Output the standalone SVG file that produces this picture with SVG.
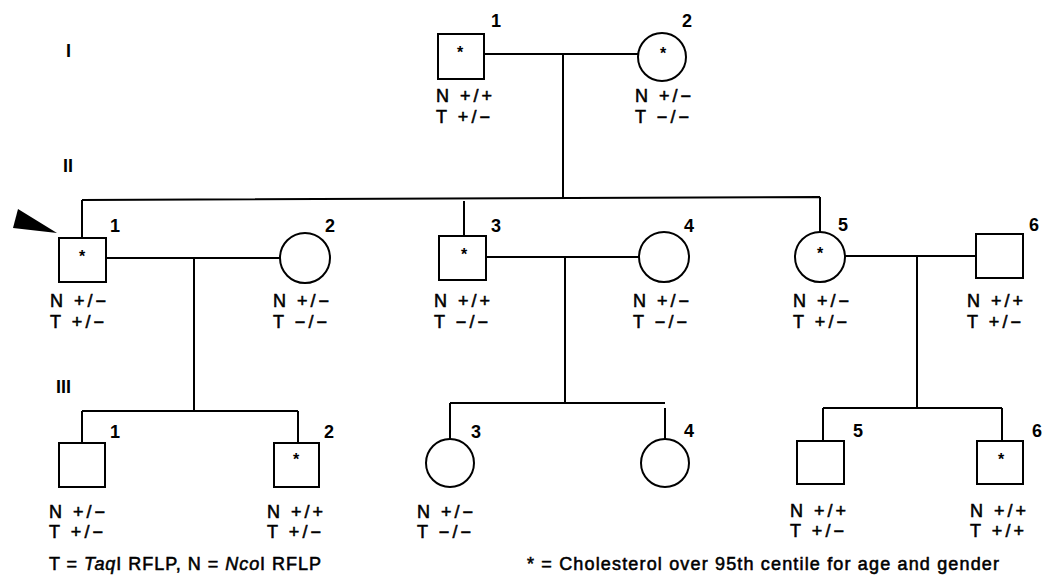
<svg xmlns="http://www.w3.org/2000/svg" width="1047" height="576" viewBox="0 0 1047 576">
<style>
.sym{fill:#fff;stroke:#000;stroke-width:2}
.ln{stroke:#000;stroke-width:2;fill:none}
text{font-family:"Liberation Sans",Arial,sans-serif;font-size:18px;fill:#000;stroke:#000;stroke-width:0.55}
.ast{text-anchor:middle;font-size:16px;font-weight:bold;stroke:none}
.num{font-size:18px;font-weight:bold;stroke:none}
</style>
<rect width="1047" height="576" fill="#fff"/>
<g id="gen-labels">
<text x="66" y="57" class="num">I</text>
<text x="63" y="172" class="num">II</text>
<text x="56" y="393" class="num">III</text>
</g>
<g id="connectors">
<path class="ln" d="M484 54H638M563 54V199"/>
<path class="ln" d="M82 200L820 197M82 200V238M464 201V236M820 197V232"/>
<path class="ln" d="M106 258H280M194 258V411M82 411H298M82 411V443M298 411V443"/>
<path class="ln" d="M486 257H639M565 257V403M450 403H665M450 403V439M665 408V439"/>
<path class="ln" d="M845 256H976M917 256V408M823 408H1002M823 408V441M1002 408V441"/>
</g>
<g id="I-1"><rect class="sym" x="438" y="34" width="46" height="45"/><text class="ast" x="460" y="58">*</text><text class="num" x="491" y="27">1</text>
<text x="436" y="102" textLength="56">N +/+</text><text x="436" y="123" textLength="54">T +/−</text></g>
<g id="I-2"><circle class="sym" cx="662" cy="57" r="24"/><text class="ast" x="663" y="59">*</text><text class="num" x="682" y="27">2</text>
<text x="635" y="102" textLength="56">N +/−</text><text x="635" y="123" textLength="54">T −/−</text></g>
<g id="II-1"><rect class="sym" x="59" y="238" width="47" height="44"/><text class="ast" x="82" y="262">*</text><text class="num" x="110" y="232">1</text>
<polygon points="57,233 18,209 13,228" fill="#000"/>
<text x="50" y="307" textLength="56">N +/−</text><text x="50" y="328" textLength="54">T +/−</text></g>
<g id="II-2"><circle class="sym" cx="305" cy="258" r="25"/><text class="num" x="325" y="232">2</text>
<text x="273" y="307" textLength="56">N +/−</text><text x="273" y="328" textLength="54">T −/−</text></g>
<g id="II-3"><rect class="sym" x="439" y="236" width="47" height="44"/><text class="ast" x="464" y="260">*</text><text class="num" x="491" y="232">3</text>
<text x="434" y="307" textLength="56">N +/+</text><text x="434" y="328" textLength="54">T −/−</text></g>
<g id="II-4"><circle class="sym" cx="664" cy="257" r="25"/><text class="num" x="684" y="232">4</text>
<text x="633" y="307" textLength="56">N +/−</text><text x="633" y="328" textLength="54">T −/−</text></g>
<g id="II-5"><circle class="sym" cx="820" cy="257" r="25"/><text class="ast" x="820" y="259">*</text><text class="num" x="838" y="231">5</text>
<text x="793" y="307" textLength="56">N +/−</text><text x="793" y="328" textLength="54">T +/−</text></g>
<g id="II-6"><rect class="sym" x="976" y="234" width="47" height="44"/><text class="num" x="1029" y="231">6</text>
<text x="967" y="307" textLength="56">N +/+</text><text x="967" y="328" textLength="54">T +/−</text></g>
<g id="III-1"><rect class="sym" x="59" y="443" width="46" height="44"/><text class="num" x="110" y="438">1</text>
<text x="49" y="518" textLength="56">N +/−</text><text x="49" y="538" textLength="54">T +/−</text></g>
<g id="III-2"><rect class="sym" x="274" y="443" width="45" height="44"/><text class="ast" x="296" y="465">*</text><text class="num" x="324" y="438">2</text>
<text x="267" y="518" textLength="56">N +/+</text><text x="267" y="538" textLength="54">T +/−</text></g>
<g id="III-3"><circle class="sym" cx="450" cy="463" r="24"/><text class="num" x="471" y="438">3</text>
<text x="417" y="518" textLength="56">N +/−</text><text x="417" y="538" textLength="54">T −/−</text></g>
<g id="III-4"><circle class="sym" cx="665" cy="463" r="24"/><text class="num" x="684" y="437">4</text></g>
<g id="III-5"><rect class="sym" x="797" y="441" width="47" height="43"/><text class="num" x="853" y="437">5</text>
<text x="790" y="517" textLength="56">N +/+</text><text x="790" y="537" textLength="54">T +/−</text></g>
<g id="III-6"><rect class="sym" x="977" y="441" width="46" height="43"/><text class="ast" x="1001" y="465">*</text><text class="num" x="1032" y="437">6</text>
<text x="970" y="517" textLength="56">N +/+</text><text x="970" y="537" textLength="54">T +/+</text></g>
<g id="legend">
<text x="49" y="570" textLength="272">T = <tspan font-style="italic">Taq</tspan>I RFLP, N = <tspan font-style="italic">Nco</tspan>I RFLP</text>
<text x="527" y="570" textLength="472">* = Cholesterol over 95th centile for age and gender</text>
</g>
</svg>
